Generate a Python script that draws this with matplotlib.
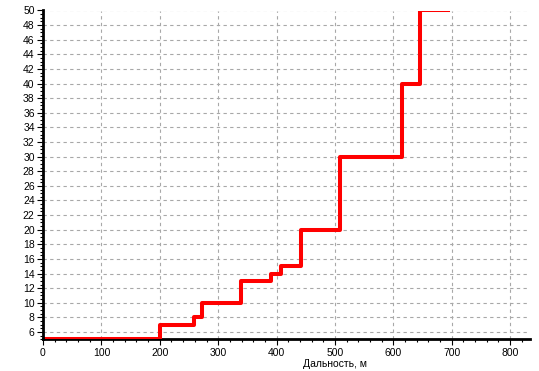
import matplotlib
matplotlib.use("Agg")
import matplotlib.pyplot as plt
from matplotlib.ticker import MultipleLocator

# Дальность (м) и значение ступени
distance = [0, 200, 258, 273, 339, 390, 407, 441, 508, 615, 645, 693]
level = [5, 7, 8, 10, 13, 14, 15, 20, 30, 40, 50, 50]

x_ticks = [0, 100, 200, 300, 400, 500, 600, 700, 800]
y_ticks = list(range(6, 51, 2))

plt.rcParams['font.family'] = ['Liberation Sans', 'DejaVu Sans']

fig = plt.figure(figsize=(5.39, 3.71), dpi=100)
ax = fig.add_axes([43 / 539, 1 - 339.3 / 371, (530 - 43) / 539, (339.3 - 10.5) / 371])

ax.step(distance, level, where='post', color='#ff0000', linewidth=2.9, zorder=3)

ax.set_xlim(0, 834)
ax.set_ylim(5, 50)
ax.set_xticks(x_ticks)
ax.set_yticks(y_ticks)
ax.xaxis.set_minor_locator(MultipleLocator(20))
ax.yaxis.set_minor_locator(MultipleLocator(0.5))

# пунктирная сетка
ax.grid(True, which='major', color='#a8a8a8', linestyle=(0, (3, 3)), linewidth=0.8)

for side in ['top', 'right']:
    ax.spines[side].set_visible(False)
ax.spines['left'].set_linewidth(2)
ax.spines['bottom'].set_linewidth(2)
ax.spines['left'].set_zorder(4)

ax.tick_params(axis='both', which='major', labelsize=7.5, length=4, width=0.8, pad=2)
ax.tick_params(axis='both', which='minor', length=2, width=0.8)

ax.set_xlabel('Дальность, м', fontsize=7.5, labelpad=0)
ax.xaxis.set_label_coords(0.6, -0.06)

fig.savefig('out.png', dpi=100)
